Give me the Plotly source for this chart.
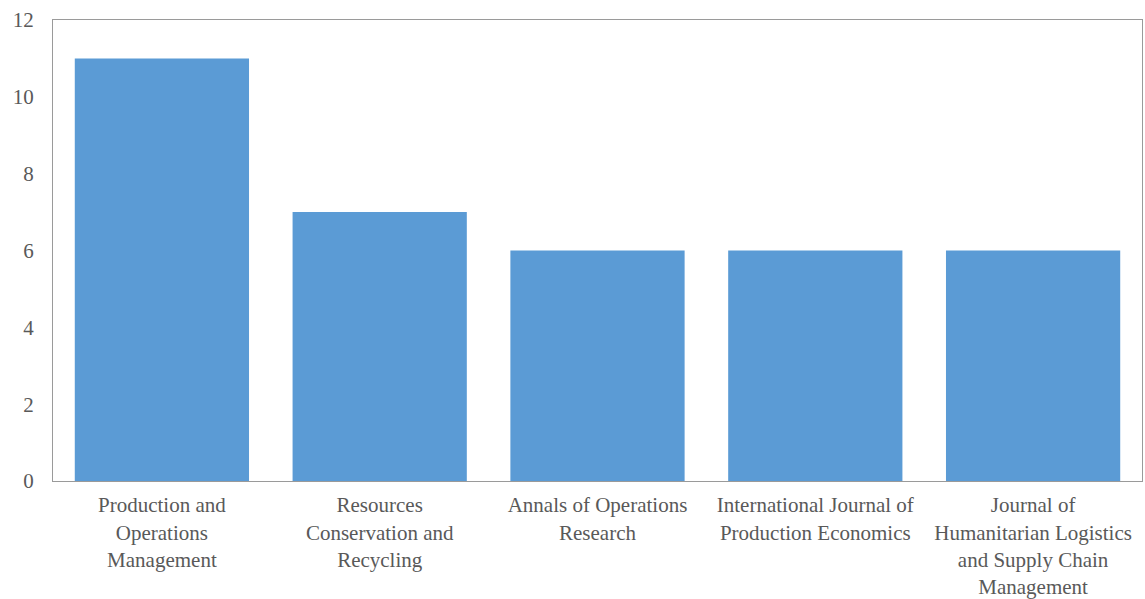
import plotly.graph_objects as go

categories = [
    "Production and<br>Operations<br>Management",
    "Resources<br>Conservation and<br>Recycling",
    "Annals of Operations<br>Research",
    "International Journal of<br>Production Economics",
    "Journal of<br>Humanitarian Logistics<br>and Supply Chain<br>Management",
]
values = [11, 7, 6, 6, 6]
y_ticks = [0, 2, 4, 6, 8, 10, 12]

fig = go.Figure(go.Bar(x=categories, y=values, marker=dict(color="#5B9BD5", line=dict(width=0)), width=0.8))

font = dict(family="Liberation Serif, Times New Roman, serif", size=21, color="#595959")
fig.update_layout(
    width=1145, height=599,
    margin=dict(l=53, r=3, t=20, b=118),
    paper_bgcolor="white", plot_bgcolor="white",
    font=font,
    showlegend=False,
    bargap=0.2,
)
fig.update_xaxes(showline=True, linecolor="#9a9a9a", linewidth=1, mirror=True,
                 showgrid=False, ticks="", tickfont=font, ticklabelstandoff=5,
                 automargin=False)
fig.update_yaxes(range=[0, 12], tickvals=y_ticks, showline=True, linecolor="#9a9a9a",
                 linewidth=1, mirror=True, showgrid=False, zeroline=False, ticks="",
                 tickfont=font, ticklabelstandoff=14, automargin=False)

fig.write_html("out.html")
